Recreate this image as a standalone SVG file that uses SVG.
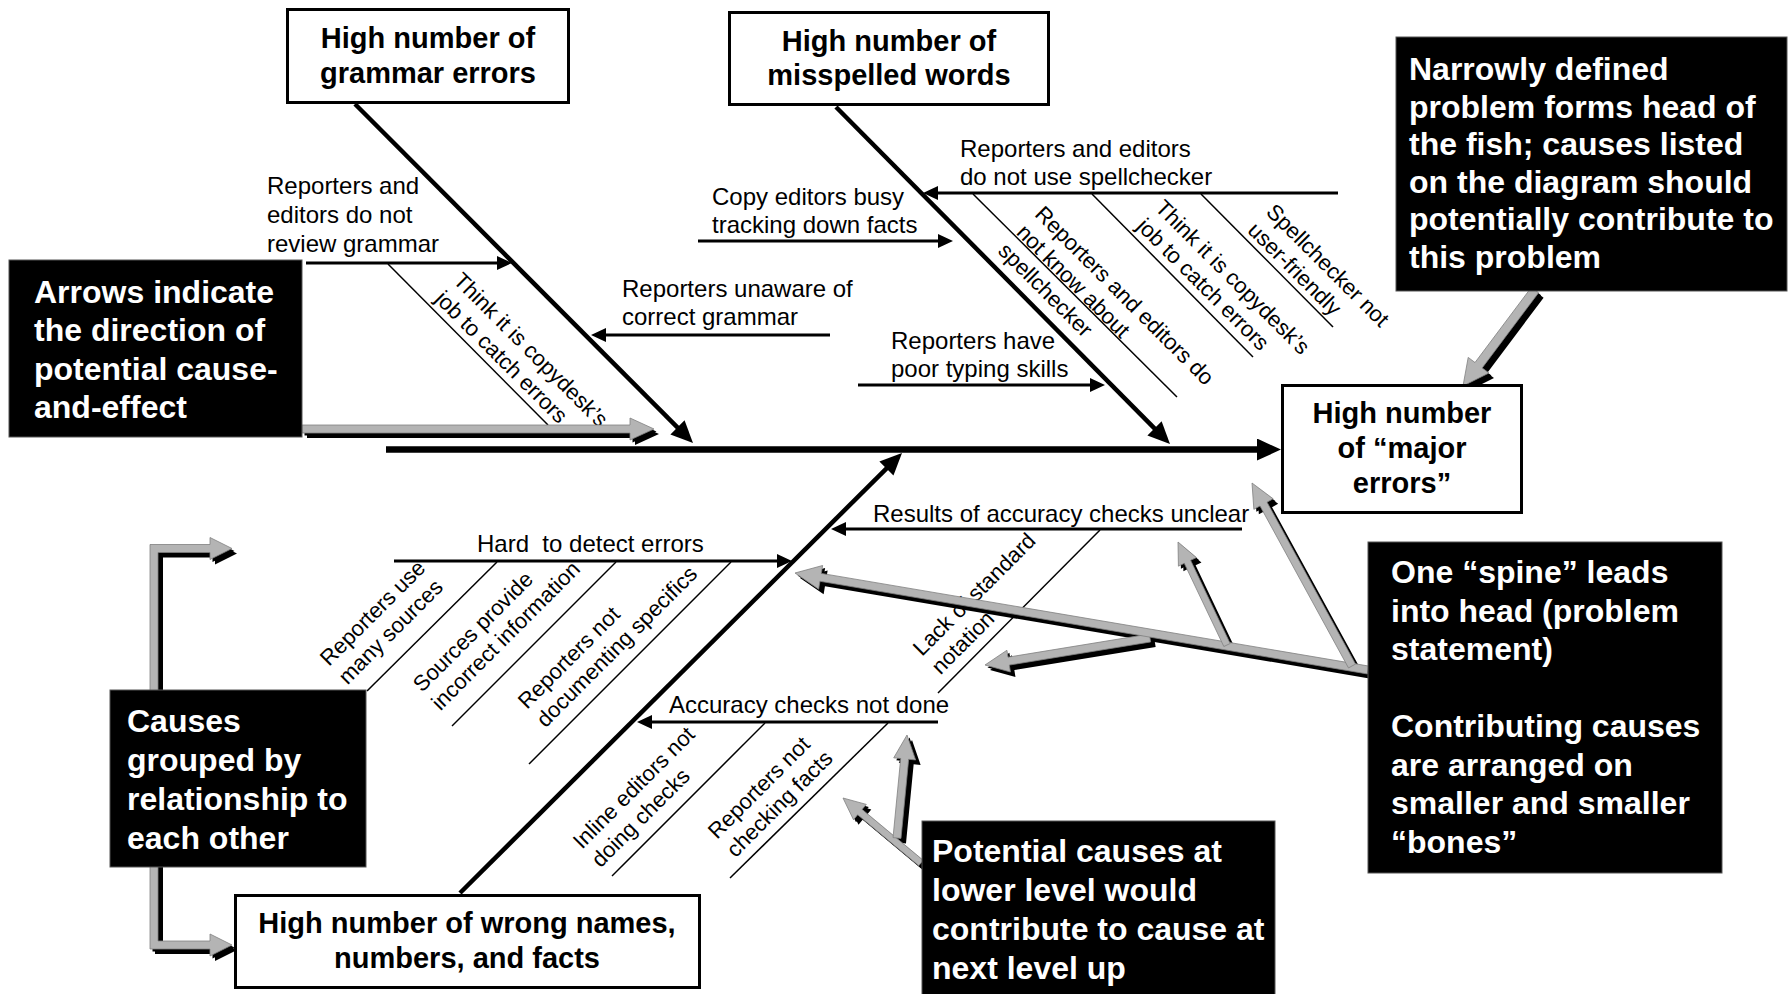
<svg xmlns="http://www.w3.org/2000/svg" width="1790" height="994" viewBox="0 0 1790 994">
<defs>
<style>
.box{fill:#fff;stroke:#000;stroke-width:3}
.call{fill:#000;stroke:#555;stroke-width:1}
.bt{font-family:"Liberation Sans",Arial,sans-serif;font-weight:bold;font-size:29px;text-anchor:middle;fill:#000}
.ct{font-family:"Liberation Sans",Arial,sans-serif;font-weight:bold;font-size:32px;fill:#fff}
.lb{font-family:"Liberation Sans",Arial,sans-serif;font-size:24px;fill:#000}
.rt{font-family:"Liberation Sans",Arial,sans-serif;font-size:22px;fill:#000}
.spine{stroke:#000;stroke-width:6.5;fill:none}
.bone{stroke:#000;stroke-width:4.5;fill:none}
.sub{stroke:#000;stroke-width:3;fill:none}
.thin{stroke:#000;stroke-width:1.5;fill:none}
.gsh{fill:#000;stroke:none}
.gface{fill:#b4b4b4;stroke:#808080;stroke-width:0.8}
</style>
<marker id="mSpine" markerUnits="userSpaceOnUse" viewBox="0 0 24 22" refX="1" refY="11" markerWidth="24" markerHeight="22" orient="auto"><path d="M0,0 L24,11 L0,22 z"/></marker>
<marker id="mBone" markerUnits="userSpaceOnUse" viewBox="0 0 22 20" refX="1" refY="10" markerWidth="22" markerHeight="20" orient="auto"><path d="M0,0 L22,10 L0,20 z"/></marker>
<marker id="mSub" markerUnits="userSpaceOnUse" viewBox="0 0 15 14" refX="1" refY="7" markerWidth="15" markerHeight="14" orient="auto"><path d="M0,0 L15,7 L0,14 z"/></marker>
<polygon id="g1" points="302,425 630,425 630,418 654,429 630,440 630,433 302,433"/>
<polygon id="g2" points="150,544.5 210,544.5 210,537.5 232,548.5 210,559.5 210,552.5 158,552.5 158,941 210,941 210,934 232,945 210,956 210,949 150,949"/>
<polygon id="g3" points="1531.4,287.3 1475,362.5 1468.2,357.4 1463,386 1489,373 1482.2,367.9 1538.6,292.7"/>
<polygon id="g4" points="1368.67,666.06 821.3,573.4 822.63,565.51 795,573 818.63,589.17 819.96,581.28 1367.33,673.94"/>
<polygon id="g5" points="1355.51,664.08 1267.02,502.14 1273.16,498.78 1252,483 1253.86,509.34 1260,505.98 1348.49,667.92"/>
<polygon id="g6" points="1230.16,643.5 1190.61,560.37 1196.48,557.57 1178,542 1178.42,566.17 1184.29,563.37 1223.84,646.5"/>
<polygon id="g7" points="1149.35,634.05 1008.03,657.17 1006.9,650.27 985,665 1010.46,671.97 1009.33,665.07 1150.65,641.95"/>
<polygon id="g8" points="900.98,838.39 908.66,759.28 915.63,759.95 907,735 893.73,757.83 900.7,758.5 893.02,837.61"/>
<polygon id="g9" points="923.24,860.31 862.14,809.39 866.3,804.4 843,798 853.5,819.76 857.66,814.77 918.76,865.69"/>
</defs>
<rect width="1790" height="994" fill="#fff"/>

<g id="connectors">
  <line class="spine" x1="386" y1="449.5" x2="1258" y2="449.5" marker-end="url(#mSpine)"/>
  <line class="bone" x1="355" y1="104" x2="678.17" y2="428.13" marker-end="url(#mBone)"/>
  <line class="bone" x1="836" y1="107" x2="1155.22" y2="429.09" marker-end="url(#mBone)"/>
  <line class="bone" x1="460" y1="893" x2="887.12" y2="467.82" marker-end="url(#mBone)"/>
  <line class="sub" x1="306" y1="263" x2="498" y2="263" marker-end="url(#mSub)"/>
  <line class="sub" x1="830" y1="335" x2="605" y2="335" marker-end="url(#mSub)"/>
  <line class="sub" x1="698" y1="241" x2="939" y2="241" marker-end="url(#mSub)"/>
  <line class="sub" x1="1338" y1="193" x2="937" y2="193" marker-end="url(#mSub)"/>
  <line class="sub" x1="858" y1="385" x2="1091" y2="385" marker-end="url(#mSub)"/>
  <line class="sub" x1="394" y1="561" x2="778" y2="561" marker-end="url(#mSub)"/>
  <line class="sub" x1="1242" y1="529" x2="845" y2="529" marker-end="url(#mSub)"/>
  <line class="sub" x1="938" y1="722" x2="651" y2="722" marker-end="url(#mSub)"/>
  <line class="thin" x1="388" y1="264" x2="548" y2="425"/>
  <line class="thin" x1="973" y1="194" x2="1177" y2="397"/>
  <line class="thin" x1="1092" y1="194" x2="1253" y2="357"/>
  <line class="thin" x1="1201" y1="194" x2="1333" y2="327"/>
  <line class="thin" x1="497" y1="562" x2="367" y2="691"/>
  <line class="thin" x1="616" y1="562" x2="452" y2="726"/>
  <line class="thin" x1="731" y1="562" x2="529" y2="764"/>
  <line class="thin" x1="1100" y1="530" x2="938" y2="693"/>
  <line class="thin" x1="765" y1="723" x2="612" y2="876"/>
  <line class="thin" x1="888" y1="723" x2="730" y2="878"/>
</g>

<g id="labels">
  <text class="lb"><tspan x="267" y="194">Reporters and</tspan><tspan x="267" y="223">editors do not</tspan><tspan x="267" y="252">review grammar</tspan></text>
  <text class="lb"><tspan x="622" y="297">Reporters unaware of</tspan><tspan x="622" y="325">correct grammar</tspan></text>
  <text class="lb"><tspan x="712" y="205">Copy editors busy</tspan><tspan x="712" y="233">tracking down facts</tspan></text>
  <text class="lb"><tspan x="960" y="157">Reporters and editors</tspan><tspan x="960" y="185">do not use spellchecker</tspan></text>
  <text class="lb"><tspan x="891" y="349">Reporters have</tspan><tspan x="891" y="377">poor typing skills</tspan></text>
  <text class="lb" x="477" y="552" xml:space="preserve">Hard  to detect errors</text>
  <text class="lb" x="873" y="522">Results of accuracy checks unclear</text>
  <text class="lb" x="669" y="713">Accuracy checks not done</text>

  <text class="rt" transform="translate(452.3,281.7) rotate(45)"><tspan x="0" y="0">Think it is copydesk’s</tspan><tspan x="0" y="26">job to catch errors</tspan></text>
  <text class="rt" transform="translate(1033.8,215.2) rotate(45)"><tspan x="0" y="0">Reporters and editors do</tspan><tspan x="0" y="26">not know about</tspan><tspan x="0" y="52">spellchecker</tspan></text>
  <text class="rt" transform="translate(1154,209) rotate(45)"><tspan x="0" y="0">Think it is copydesk’s</tspan><tspan x="0" y="26">job to catch errors</tspan></text>
  <text class="rt" transform="translate(1265,213) rotate(45)"><tspan x="0" y="0">Spellchecker not</tspan><tspan x="0" y="26">user-friendly</tspan></text>

  <text class="rt" transform="translate(329,667) rotate(-45)"><tspan x="0" y="0">Reporters use</tspan><tspan x="0" y="26">many sources</tspan></text>
  <text class="rt" transform="translate(422,693) rotate(-45)"><tspan x="0" y="0">Sources provide</tspan><tspan x="0" y="26">incorrect information</tspan></text>
  <text class="rt" transform="translate(527,710) rotate(-45)"><tspan x="0" y="0">Reporters not</tspan><tspan x="0" y="26">documenting specifics</tspan></text>
  <text class="rt" transform="translate(922,657) rotate(-45)"><tspan x="0" y="0">Lack of standard</tspan><tspan x="0" y="26">notation</tspan></text>
  <text class="rt" transform="translate(582,850) rotate(-45)"><tspan x="0" y="0">Inline editors not</tspan><tspan x="0" y="26">doing checks</tspan></text>
  <text class="rt" transform="translate(717,840) rotate(-45)"><tspan x="0" y="0">Reporters not</tspan><tspan x="0" y="26">checking facts</tspan></text>
</g>

<g id="pointers">
  <use href="#g1" class="gsh" transform="translate(2.5,2.5)"/><use href="#g1" class="gsh" transform="translate(5,5)"/><use href="#g1" class="gface"/>
  <use href="#g2" class="gsh" transform="translate(2.5,2.5)"/><use href="#g2" class="gsh" transform="translate(5,5)"/><use href="#g2" class="gface"/>
  <use href="#g3" class="gsh" transform="translate(2.5,2.5)"/><use href="#g3" class="gsh" transform="translate(5,5)"/><use href="#g3" class="gface"/>
  <use href="#g4" class="gsh" transform="translate(2.5,2.5)"/><use href="#g4" class="gsh" transform="translate(5,5)"/>
  <use href="#g7" class="gsh" transform="translate(2.5,2.5)"/><use href="#g7" class="gsh" transform="translate(5,5)"/>
  <use href="#g5" class="gsh" transform="translate(2.5,2.5)"/><use href="#g5" class="gsh" transform="translate(5,5)"/>
  <use href="#g6" class="gsh" transform="translate(2.5,2.5)"/><use href="#g6" class="gsh" transform="translate(5,5)"/>
  <use href="#g7" class="gface"/><use href="#g4" class="gface"/><use href="#g5" class="gface"/><use href="#g6" class="gface"/>
  <use href="#g9" class="gsh" transform="translate(2.5,2.5)"/><use href="#g9" class="gsh" transform="translate(5,5)"/>
  <use href="#g8" class="gsh" transform="translate(2.5,2.5)"/><use href="#g8" class="gsh" transform="translate(5,5)"/>
  <use href="#g9" class="gface"/><use href="#g8" class="gface"/>
</g>

<g id="node-grammar">
  <rect class="box" x="287.5" y="9.5" width="281" height="93"/>
  <text class="bt"><tspan x="428" y="48">High number of</tspan><tspan x="428" y="83">grammar errors</tspan></text>
</g>
<g id="node-misspelled">
  <rect class="box" x="729.5" y="12.5" width="319" height="92"/>
  <text class="bt"><tspan x="889" y="51">High number of</tspan><tspan x="889" y="85">misspelled words</tspan></text>
</g>
<g id="node-head">
  <rect class="box" x="1282.5" y="385.5" width="239" height="127"/>
  <text class="bt"><tspan x="1402" y="423">High number</tspan><tspan x="1402" y="458">of “major</tspan><tspan x="1402" y="493">errors”</tspan></text>
</g>
<g id="node-wrong">
  <rect class="box" x="235.5" y="895.5" width="464" height="92"/>
  <text class="bt"><tspan x="467" y="933">High number of wrong names,</tspan><tspan x="467" y="968">numbers, and facts</tspan></text>
</g>

<g id="callout-arrows">
  <rect class="call" x="9" y="260" width="293" height="177"/>
  <text class="ct"><tspan x="34" y="303">Arrows indicate</tspan><tspan x="34" y="341">the direction of</tspan><tspan x="34" y="380">potential cause-</tspan><tspan x="34" y="418">and-effect</tspan></text>
</g>
<g id="callout-narrow">
  <rect class="call" x="1396" y="37" width="391" height="254"/>
  <text class="ct"><tspan x="1409" y="80">Narrowly defined</tspan><tspan x="1409" y="118">problem forms head of</tspan><tspan x="1409" y="155">the fish; causes listed</tspan><tspan x="1409" y="193">on the diagram should</tspan><tspan x="1409" y="230">potentially contribute to</tspan><tspan x="1409" y="268">this problem</tspan></text>
</g>
<g id="callout-causes">
  <rect class="call" x="110" y="690" width="256" height="177"/>
  <text class="ct"><tspan x="127" y="732">Causes</tspan><tspan x="127" y="771">grouped by</tspan><tspan x="127" y="810">relationship to</tspan><tspan x="127" y="849">each other</tspan></text>
</g>
<g id="callout-potential">
  <rect class="call" x="922" y="821" width="353" height="180"/>
  <text class="ct"><tspan x="932" y="862">Potential causes at</tspan><tspan x="932" y="901">lower level would</tspan><tspan x="932" y="940">contribute to cause at</tspan><tspan x="932" y="979">next level up</tspan></text>
</g>
<g id="callout-spine">
  <rect class="call" x="1368" y="542" width="354" height="331"/>
  <text class="ct"><tspan x="1391" y="583">One “spine” leads</tspan><tspan x="1391" y="621.5">into head (problem</tspan><tspan x="1391" y="660">statement)</tspan><tspan x="1391" y="737">Contributing causes</tspan><tspan x="1391" y="775.5">are arranged on</tspan><tspan x="1391" y="814">smaller and smaller</tspan><tspan x="1391" y="852.5">“bones”</tspan></text>
</g>
</svg>
